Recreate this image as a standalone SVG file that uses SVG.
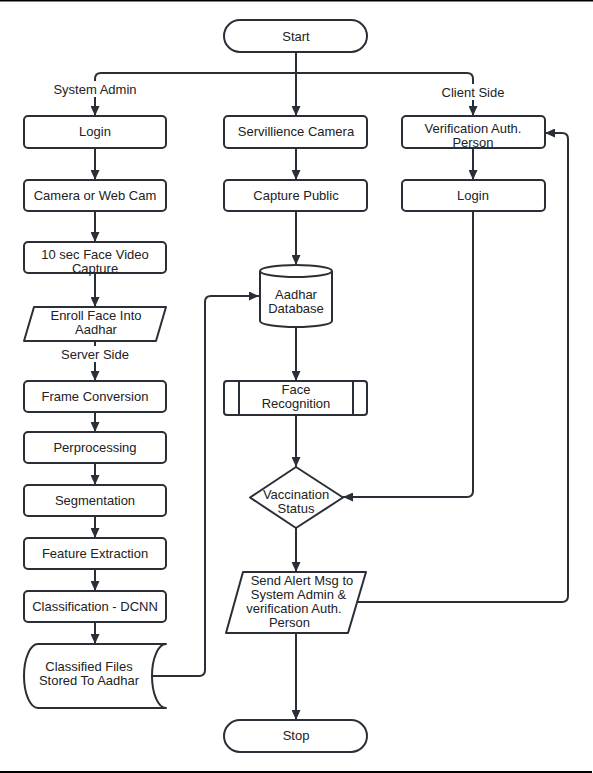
<svg xmlns="http://www.w3.org/2000/svg" width="593" height="773" viewBox="0 0 593 773">
<style>
.s{fill:#fff;stroke:#2a2f37;stroke-width:2;stroke-linejoin:round}
.c{fill:none;stroke:#2a2f37;stroke-width:2;marker-end:url(#ah)}
.cn{fill:none;stroke:#2a2f37;stroke-width:2}
text{font-family:"Liberation Sans",Arial,sans-serif;font-size:13px;fill:#222;text-anchor:middle}
.bg{fill:#fff;stroke:none}
</style>
<defs>
<marker id="ah" markerUnits="userSpaceOnUse" markerWidth="10" markerHeight="9" refX="10" refY="4.5" orient="auto">
<path d="M0,0 L10,4.5 L0,9 z" fill="#2a2f37"/>
</marker>
</defs>
<rect x="0" y="0" width="593" height="773" fill="#fff"/>
<line x1="0" y1="0.75" x2="593" y2="0.75" stroke="#000" stroke-width="1.5"/>
<line x1="0" y1="772" x2="592" y2="772" stroke="#000" stroke-width="2"/>

<g id="connectors">
<path class="c" d="M296,52 V116"/>
<path class="c" d="M296,73 H101 Q95,73 95,79 V116"/>
<path class="c" d="M296,73 H467 Q473,73 473,79 V116"/>
<path class="c" d="M95,148 V180"/>
<path class="c" d="M95,211 V242"/>
<path class="c" d="M95,273 V307"/>
<path class="c" d="M95,341 V381"/>
<path class="c" d="M95,412 V432"/>
<path class="c" d="M95,463 V485"/>
<path class="c" d="M95,516 V538"/>
<path class="c" d="M95,569 V591"/>
<path class="c" d="M95,622 V644"/>
<path class="c" d="M152,676 H199 Q205,676 205,670 V302 Q205,296 211,296 H259"/>
<path class="c" d="M296,148 V180"/>
<path class="c" d="M296,211 V265"/>
<path class="c" d="M296,327 V381"/>
<path class="c" d="M296,415 V467"/>
<path class="c" d="M296,528 V572"/>
<path class="c" d="M296,633 V720"/>
<path class="c" d="M473,148 V180"/>
<path class="c" d="M473,211 V491 Q473,497 467,497 H343"/>
<path class="c" d="M357,602 H562 Q568,602 568,596 V139 Q568,133 562,133 H545"/>
<rect class="bg" x="51" y="81" width="88" height="16"/>
<text x="95" y="93.5">System Admin</text>
<rect class="bg" x="440" y="84" width="67" height="16"/>
<text x="473" y="97">Client Side</text>
<rect class="bg" x="58" y="346" width="74" height="16"/>
<text x="95" y="358.5">Server Side</text>
</g>

<g id="start"><rect class="s" x="224" y="20" width="143" height="32" rx="16"/><text x="296" y="40.5">Start</text></g>
<g id="login-admin"><rect class="s" x="24" y="116" width="142" height="32" rx="4"/><text x="95" y="136">Login</text></g>
<g id="camera"><rect class="s" x="24" y="180" width="142" height="31" rx="4"/><text x="95" y="200">Camera or Web Cam</text></g>
<g id="video"><rect class="s" x="24" y="242" width="142" height="31" rx="4"/><text x="95" y="258.5">10 sec Face Video</text><text x="95" y="272.5">Capture</text></g>
<g id="enroll"><path class="s" d="M34,307 H166 L156,341 H24 Z"/><text x="96" y="319.5">Enroll Face Into</text><text x="96" y="333.5">Aadhar</text></g>
<g id="frame"><rect class="s" x="24" y="381" width="142" height="31" rx="4"/><text x="95" y="401">Frame Conversion</text></g>
<g id="perp"><rect class="s" x="24" y="432" width="142" height="31" rx="4"/><text x="95" y="452">Perprocessing</text></g>
<g id="seg"><rect class="s" x="24" y="485" width="142" height="31" rx="4"/><text x="95" y="505">Segmentation</text></g>
<g id="feat"><rect class="s" x="24" y="538" width="142" height="31" rx="4"/><text x="95" y="558">Feature Extraction</text></g>
<g id="class"><rect class="s" x="24" y="591" width="142" height="31" rx="4"/><text x="95" y="611">Classification - DCNN</text></g>
<g id="stored"><path class="s" d="M38,644 H166 A14,32 0 0 0 166,708 H38 A14,32 0 0 1 38,644 Z"/><text x="89" y="671">Classified Files</text><text x="89" y="685">Stored To Aadhar</text></g>

<g id="surv"><rect class="s" x="224" y="116" width="143" height="32" rx="4"/><text x="296" y="136">Servillience Camera</text></g>
<g id="capture"><rect class="s" x="224" y="180" width="143" height="31" rx="4"/><text x="296" y="200">Capture Public</text></g>
<g id="aadhar"><path class="s" d="M260,271 A36,6 0 0 1 332,271 V321 A36,6 0 0 1 260,321 Z"/><path class="cn" d="M260,271 A36,6 0 0 0 332,271"/><text x="296" y="298.5">Aadhar</text><text x="296" y="312.5">Database</text></g>
<g id="facerec"><rect class="s" x="224" y="381" width="143" height="34" rx="3"/><line class="cn" x1="239" y1="381" x2="239" y2="415"/><line class="cn" x1="353" y1="381" x2="353" y2="415"/><text x="296" y="393.5">Face</text><text x="296" y="407.5">Recognition</text></g>
<g id="vacc"><path class="s" d="M296,467 L343,497.5 L296,528 L250,497.5 Z"/><text x="296" y="498.5">Vaccination</text><text x="296" y="512.5">Status</text></g>
<g id="alert"><path class="s" d="M243,572 H366 L348,633 H226 Z"/><text x="302" y="584.5">Send Alert Msg to</text><text x="298.5" y="598.5">System Admin &amp;</text><text x="294" y="612.5">verification Auth.</text><text x="289.5" y="626.5">Person</text></g>
<g id="stop"><rect class="s" x="224" y="720" width="143" height="32" rx="16"/><text x="296" y="740">Stop</text></g>

<g id="verif"><rect class="s" x="402" y="116" width="143" height="32" rx="4"/><text x="473" y="132.5">Verification Auth.</text><text x="473" y="146.5">Person</text></g>
<g id="login-client"><rect class="s" x="402" y="180" width="143" height="31" rx="4"/><text x="473" y="200">Login</text></g>
</svg>
